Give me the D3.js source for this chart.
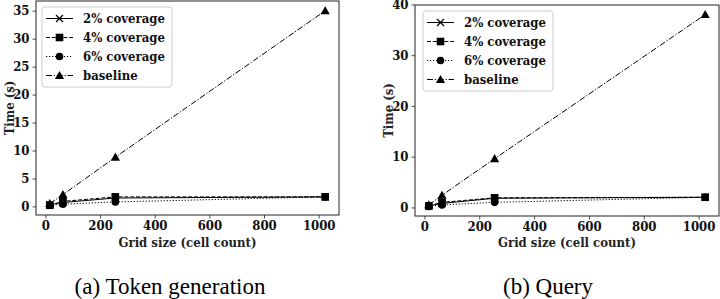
<!DOCTYPE html>
<html>
<head>
<meta charset="utf-8">
<script src="https://cdn.jsdelivr.net/npm/d3@7"></script>
<style>
  body { margin: 0; background: #fff; }
  svg { display: block; }
</style>
</head>
<body>
<div class="chart"></div>
<script>
// data
const gridSizes = [16, 64, 256, 1024];
const seriesNames = ["2% coverage", "4% coverage", "6% coverage", "baseline"];

const tokenCov2 = [0.3, 0.7, 1.5, 1.7];
const tokenCov4 = [0.2, 0.9, 1.7, 1.7];
const tokenCov6 = [0.2, 0.4, 0.8, 1.7];
const tokenBase = [0.5, 2.1, 8.8, 35.0];

const queryCov2 = [0.3, 0.8, 1.8, 2.0];
const queryCov4 = [0.3, 1.0, 1.9, 2.0];
const queryCov6 = [0.2, 0.5, 1.0, 2.0];
const queryBase = [0.5, 2.4, 9.6, 38.0];

const xTicks = [0, 200, 400, 600, 800, 1000];
const tokenYTicks = [0, 5, 10, 15, 20, 25, 30, 35];
const queryYTicks = [0, 10, 20, 30, 40];

const captions = ["(a) Token generation", "(b) Query"];

// mesures
const size = { width: 720, height: 299 };
const serifFont = "'DejaVu Serif Condensed', 'DejaVu Serif'";
const fontSize = "13px";

const styles = [
  { marker: "x",        dash: null },
  { marker: "square",   dash: "4,1.8" },
  { marker: "circle",   dash: "1.2,1.8" },
  { marker: "triangle", dash: "6,1.8,1.2,1.8" }
];

const panels = [
  { box: { left: 36, right: 339, top: 1, bottom: 215 },
    series: [tokenCov2, tokenCov4, tokenCov6, tokenBase],
    yTicks: tokenYTicks, caption: captions[0], capX: 170, legend: { x: 42, y: 7 } },
  { box: { left: 415, right: 719, top: 5, bottom: 216 },
    series: [queryCov2, queryCov4, queryCov6, queryBase],
    yTicks: queryYTicks, caption: captions[1], capX: 548, legend: { x: 423, y: 11 } }
];

const svg = d3.select(".chart")
  .append("svg")
  .attr("width", size.width)
  .attr("height", size.height);

// matplotlib like padding (5%)
const padded = (lo, hi) => {
  const m = (hi - lo) * 0.05;
  return [lo - m, hi + m];
};

const setFont = (sel) => sel
  .style("font-family", serifFont)
  .style("font-weight", "bold")
  .style("font-size", fontSize);

const drawMarker = (sel, kind, x, y) => {
  if (kind === "x") {
    const r = 3.5;
    sel.append("path")
      .attr("d", `M${x - r},${y - r}L${x + r},${y + r}M${x - r},${y + r}L${x + r},${y - r}`)
      .attr("stroke", "black")
      .attr("stroke-width", 1.2);
  } else if (kind === "square") {
    sel.append("rect")
      .attr("x", x - 3.8).attr("y", y - 3.8)
      .attr("width", 7.6).attr("height", 7.6)
      .attr("fill", "black");
  } else if (kind === "circle") {
    sel.append("circle")
      .attr("cx", x).attr("cy", y).attr("r", 3.8)
      .attr("fill", "black");
  } else {
    const r = 4.6;
    sel.append("path")
      .attr("d", `M${x},${y - r}L${x + r},${y + r * 0.75}L${x - r},${y + r * 0.75}Z`)
      .attr("fill", "black");
  }
};

panels.forEach((p) => {
  const g = svg.append("g");
  const all = p.series.flat();

  const x = d3.scaleLinear()
    .domain(padded(d3.min(gridSizes), d3.max(gridSizes)))
    .range([p.box.left, p.box.right]);
  const y = d3.scaleLinear()
    .domain(padded(d3.min(all), d3.max(all)))
    .range([p.box.bottom, p.box.top]);

  // axes
  const xAxis = g.append("g")
    .attr("transform", `translate(0,${p.box.bottom})`)
    .call(d3.axisBottom(x).tickValues(xTicks).tickSize(3.5).tickPadding(2).tickFormat(d3.format("d")));
  const yAxis = g.append("g")
    .attr("transform", `translate(${p.box.left},0)`)
    .call(d3.axisLeft(y).tickValues(p.yTicks).tickSize(3.5).tickPadding(3).tickFormat(d3.format("d")));

  [xAxis, yAxis].forEach((a) => {
    a.attr("font-family", null).attr("font-size", null);
    a.select(".domain").remove();
    a.selectAll("text").call(setFont).attr("fill", "#111");
    a.selectAll("line").attr("stroke", "#222").attr("stroke-width", 0.8);
  });

  // lines
  const line = d3.line()
    .x((d, i) => x(gridSizes[i]))
    .y((d) => y(d));

  p.series.forEach((vals, si) => {
    g.append("path")
      .datum(vals)
      .attr("d", line)
      .attr("fill", "none")
      .attr("stroke", "black")
      .attr("stroke-width", 1)
      .attr("stroke-dasharray", styles[si].dash);
  });
  p.series.forEach((vals, si) => {
    vals.forEach((v, i) => drawMarker(g, styles[si].marker, x(gridSizes[i]), y(v)));
  });

  // frame
  g.append("rect")
    .attr("x", p.box.left)
    .attr("y", p.box.top)
    .attr("width", p.box.right - p.box.left)
    .attr("height", p.box.bottom - p.box.top)
    .attr("fill", "none")
    .attr("stroke", "#222")
    .attr("stroke-width", 1);

  // axis labels
  g.append("text")
    .attr("x", (p.box.left + p.box.right) / 2)
    .attr("y", 246.5)
    .attr("text-anchor", "middle")
    .call(setFont)
    .attr("fill", "#222")
    .text("Grid size (cell count)");
  g.append("text")
    .attr("transform", `translate(${p.box.left - 27},${(p.box.top + p.box.bottom) / 2}) rotate(-90)`)
    .attr("text-anchor", "middle")
    .attr("dy", "0.35em")
    .call(setFont)
    .attr("fill", "#222")
    .text("Time (s)");

  // legend
  const lg = g.append("g").attr("transform", `translate(${p.legend.x},${p.legend.y})`);
  lg.append("rect")
    .attr("width", 130).attr("height", 80)
    .attr("rx", 3)
    .attr("fill", "white").attr("fill-opacity", 0.85)
    .attr("stroke", "#ccc");
  seriesNames.forEach((name, i) => {
    const cy = 11.5 + i * 19;
    lg.append("line")
      .attr("x1", 4).attr("x2", 31)
      .attr("y1", cy).attr("y2", cy)
      .attr("stroke", "black")
      .attr("stroke-width", 1)
      .attr("stroke-dasharray", styles[i].dash);
    drawMarker(lg, styles[i].marker, 17.5, cy);
    lg.append("text")
      .attr("x", 41).attr("y", cy)
      .attr("dy", "0.36em")
      .call(setFont)
      .attr("fill", "#111")
      .text(name);
  });

  // caption
  svg.append("text")
    .attr("x", p.capX)
    .attr("y", 294)
    .attr("text-anchor", "middle")
    .style("font-family", "'Liberation Serif'")
    .style("font-size", "23px")
    .attr("fill", "black")
    .text(p.caption);
});
</script>
</body>
</html>
